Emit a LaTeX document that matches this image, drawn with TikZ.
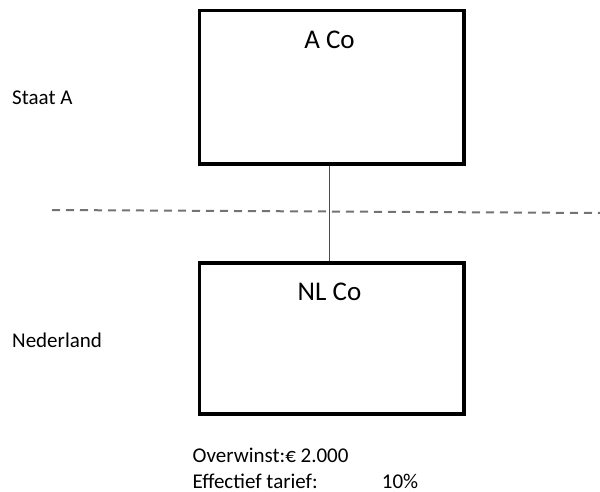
\documentclass[tikz,border=0pt]{standalone}
\usepackage{fontspec}
\setmainfont{Carlito}
\begin{document}
\begin{tikzpicture}[x=1pt,y=-1pt,
  entity/.style={draw=black,line width=3.5pt},
  lbl/.style={inner sep=0pt,anchor=base west,font=\fontsize{21}{25}\selectfont},
  title/.style={inner sep=0pt,anchor=base,font=\fontsize{27}{32}\selectfont},
  link/.style={draw=black!70,line width=1.5pt},
  border/.style={draw=black!55,line width=2pt,dash pattern=on 8pt off 6pt}]
\useasboundingbox (0,0) rectangle (600,492);
\node[entity,minimum width=264.5pt,minimum height=153.5pt,anchor=north west,inner sep=0pt] (aco) at (197.5,9) {};
\node[entity,minimum width=264.5pt,minimum height=151pt,anchor=north west,inner sep=0pt] (nlco) at (197.5,261) {};
\node[title] (acot) at (329.5,48.3) {A Co};
\node[title] (nlcot) at (329.5,300) {NL Co};
\draw[link] (aco.south -| 329.7,0) -- (nlco.north -| 329.7,0);
\coordinate (bl) at (52,210);
\coordinate (br) at (600,213);
\draw[border] (bl) -- (br);
\node[lbl] (staat) at (12,105) {Staat A};
\node[lbl] (ned) at (12,347.3) {Nederland};
\node[lbl] (ow) at (192.5,462.7) {Overwinst:€ 2.000};
\node[lbl] (et) at (192.5,488) {Effectief tarief:};
\node[lbl] (pct) at (381.7,488) {10\%};
\end{tikzpicture}
\end{document}
